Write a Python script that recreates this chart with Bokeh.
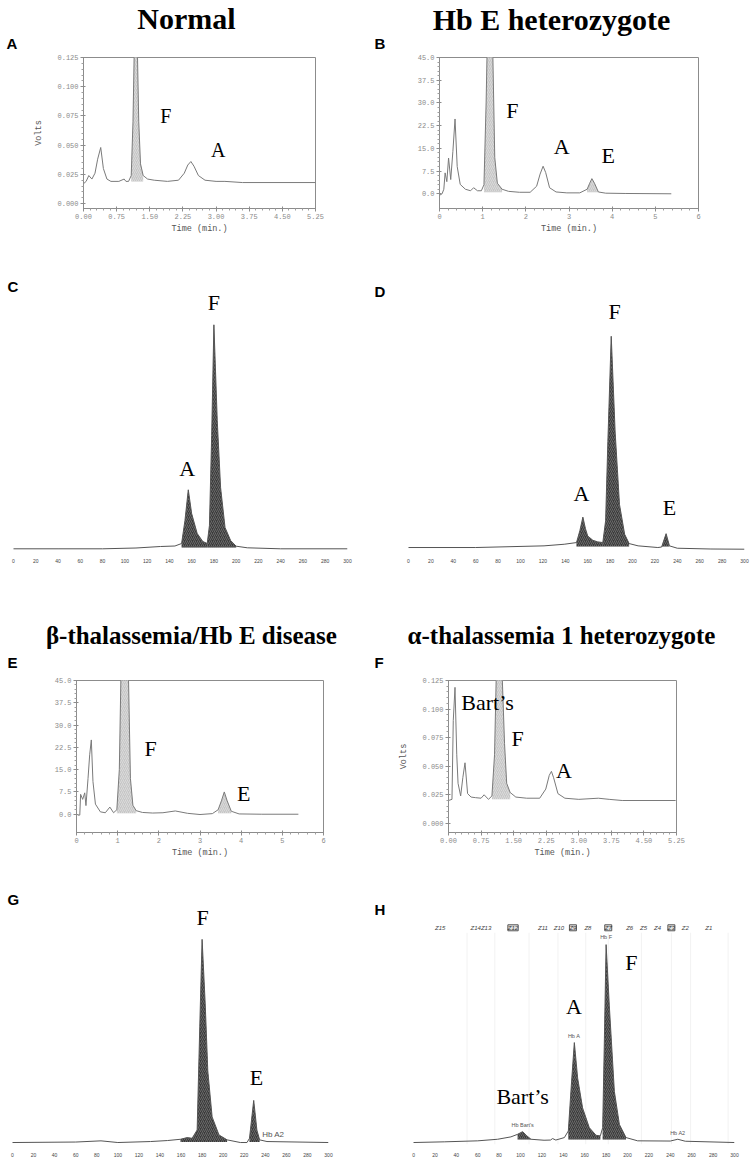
import numpy as np
from bokeh.plotting import figure
from bokeh.layouts import column, row
from bokeh.models import Range1d, Label, FixedTicker, PrintfTickFormatter
from bokeh.embed import file_html
from bokeh.resources import INLINE

# ---------------- data ----------------
# Panel A - Normal, HPLC (time in min, signal in volts)
a_time = [0.00, 0.06, 0.12, 0.19, 0.26, 0.32, 0.39, 0.45, 0.53, 0.62, 0.80, 0.92, 0.96, 1.02, 1.08, 1.12,
          1.15, 1.18, 1.22, 1.25, 1.29, 1.35, 1.45, 1.60, 1.90, 2.15, 2.28, 2.36, 2.43, 2.50, 2.60, 2.75,
          3.00, 3.20, 3.60, 5.25]
a_volts = [0.017, 0.019, 0.024, 0.021, 0.026, 0.038, 0.048, 0.030, 0.021, 0.019, 0.019, 0.021, 0.019, 0.019,
           0.024, 0.070, 0.135, 0.140, 0.130, 0.070, 0.034, 0.024, 0.021, 0.020, 0.019, 0.020, 0.026, 0.033,
           0.036, 0.032, 0.024, 0.020, 0.019, 0.019, 0.018, 0.018]
a_shaded = [(1.06, 1.40)]

# Panel B - Hb E heterozygote, HPLC (%)
b_time = [0.00, 0.06, 0.10, 0.13, 0.17, 0.21, 0.26, 0.31, 0.36, 0.41, 0.48, 0.60, 0.72, 0.79, 0.88, 0.97,
          1.03, 1.08, 1.12, 1.18, 1.23, 1.28, 1.34, 1.45, 1.60, 1.85, 2.10, 2.25, 2.33, 2.40, 2.46, 2.55,
          2.70, 2.95, 3.25, 3.42, 3.48, 3.53, 3.59, 3.68, 3.85, 4.30, 5.37]
b_pct = [-0.5, 0.0, 1.5, 6.9, 4.0, 11.8, 4.7, 14.0, 24.7, 9.0, 3.1, 1.5, 1.0, 2.0, 1.0, 1.0, 3.0, 30.0, 60.0,
         62.0, 50.0, 12.0, 3.5, 1.5, 0.8, 0.5, 0.5, 2.5, 6.5, 9.1, 7.0, 2.0, 0.6, 0.3, 0.3, 1.5, 3.5, 5.0,
         3.5, 0.6, 0.2, 0.1, 0.0]
b_shaded = [(1.00, 1.45), (3.40, 3.70)]

# Panel C - Normal, capillary electrophoresis
c_pos = [0, 40, 80, 110, 132, 145, 151, 154, 157, 160, 165, 170, 174, 176, 178, 180, 183, 186, 190, 195,
         200, 210, 240, 300]
c_signal = [1.7, 1.7, 1.7, 2.5, 4.0, 4.5, 7.0, 30.0, 60.7, 37.0, 17.0, 9.0, 7.0, 25.0, 115.0, 225.7, 130.0,
            63.0, 23.0, 10.0, 4.3, 2.7, 1.7, 1.7]
c_shaded = [(150, 174), (174, 202)]

# Panel D - Hb E heterozygote, capillary electrophoresis
d_pos = [0, 60, 121, 139, 150, 153, 155.7, 158, 160, 164.6, 169, 173.5, 176, 178, 181, 184.5, 188.4, 193,
         197, 205, 222.6, 226, 230, 233, 240, 270, 300]
d_signal = [3.0, 3.0, 4.7, 6.3, 8.0, 20.0, 33.7, 22.0, 14.7, 10.3, 8.7, 8.0, 30.0, 110.0, 216.3, 119.7, 46.3,
            16.3, 7.0, 4.7, 3.0, 3.5, 17.0, 4.7, 2.3, 1.5, 1.3]
d_shaded = [(149, 173.5), (173.5, 200), (225, 236)]

# Panel E - beta-thalassemia/Hb E disease, HPLC (%)
e_time = [0.03, 0.08, 0.10, 0.15, 0.20, 0.23, 0.28, 0.32, 0.36, 0.40, 0.46, 0.58, 0.70, 0.81, 0.90, 0.98,
          1.04, 1.09, 1.14, 1.20, 1.26, 1.31, 1.37, 1.45, 1.60, 1.85, 2.10, 2.40, 2.70, 3.00, 3.30, 3.44,
          3.52, 3.59, 3.66, 3.76, 3.95, 4.50, 5.39]
e_pct = [-0.3, -0.3, 6.7, 5.0, 7.2, 2.9, 12.0, 20.0, 25.0, 11.0, 3.4, 0.8, 0.5, 2.4, 0.5, 1.5, 15.0, 55.0,
         60.0, 60.0, 48.0, 12.0, 3.0, 1.2, 0.6, 0.4, 0.5, 1.1, 0.3, -0.1, 0.2, 1.5, 4.5, 7.5, 4.5, 1.0, 0.1,
         0.0, 0.0]
e_shaded = [(0.95, 1.47), (3.40, 3.80)]

# Panel F - alpha-thalassemia 1 heterozygote, HPLC (volts)
f_time = [0.00, 0.08, 0.11, 0.15, 0.19, 0.22, 0.28, 0.33, 0.38, 0.44, 0.52, 0.62, 0.75, 0.82, 0.92, 1.00,
          1.06, 1.10, 1.14, 1.20, 1.24, 1.29, 1.34, 1.42, 1.55, 1.80, 2.10, 2.24, 2.32, 2.37, 2.42, 2.52,
          2.68, 3.00, 3.45, 3.70, 4.00, 5.23]
f_volts = [0.020, 0.021, 0.090, 0.119, 0.060, 0.035, 0.024, 0.040, 0.053, 0.026, 0.023, 0.0225, 0.022, 0.025,
           0.021, 0.024, 0.060, 0.130, 0.145, 0.140, 0.125, 0.070, 0.035, 0.027, 0.023, 0.022, 0.022, 0.030,
           0.042, 0.0455, 0.040, 0.026, 0.022, 0.021, 0.022, 0.021, 0.020, 0.020]
f_shaded = [(0.97, 1.42)]

# Panel G - beta-thalassemia/Hb E disease, capillary electrophoresis
g_pos = [0, 60, 84, 100, 131, 147, 159.5, 165.8, 170.5, 175.3, 177.8, 180, 183, 185.4, 189.5, 196, 203.7,
         216.3, 222.6, 225, 229, 232, 234.6, 241.6, 300]
g_signal = [2.0, 2.5, 3.7, 2.0, 3.0, 4.0, 5.3, 7.0, 6.3, 14.7, 120.0, 208.0, 141.3, 74.7, 28.0, 9.7, 4.7, 2.0,
            2.0, 6.3, 44.7, 14.7, 4.7, 3.0, 2.0]
g_shaded = [(158, 205), (223.5, 236)]

# Panel H - alpha-thalassemia 1 heterozygote, capillary electrophoresis
h_pos = [0, 28.7, 60, 78.6, 91, 97.3, 102, 106, 109.8, 122, 128, 130, 133, 141, 144.7, 147.5, 150.3, 153.4,
         158, 164.3, 170.6, 174.6, 176.8, 178.4, 180, 183, 187.7, 192.4, 198.6, 209.5, 240, 247, 254, 300]
h_signal = [2.0, 2.7, 3.7, 5.3, 7.7, 10.3, 13.0, 8.7, 5.3, 4.3, 4.5, 6.0, 4.5, 7.0, 13.7, 60.0, 103.0, 67.0,
            37.0, 17.0, 9.3, 8.7, 17.0, 107.0, 202.0, 140.0, 53.7, 20.3, 7.0, 3.7, 3.5, 5.3, 3.3, 2.0]
h_shaded = [(92, 110), (142, 175), (175, 205)]
h_zones = ["Z15", "Z14Z13", "Z12", "Z11", "Z10", "Z9", "Z8", "Z7", "Z6", "Z5", "Z4", "Z3", "Z2", "Z1"]
h_zone_pos = [25, 63, 93, 121, 136, 149, 163, 182, 202, 215, 228, 241, 254, 276]
h_zone_boxed = ["Z12", "Z9", "Z7", "Z3"]
h_zone_edges = [50, 76, 108, 135, 161, 182, 213, 241, 259, 294]

# axis ticks
hplc_volt_ticks = [0.000, 0.025, 0.050, 0.075, 0.100, 0.125]
hplc_volt_time_ticks = [0.00, 0.75, 1.50, 2.25, 3.00, 3.75, 4.50, 5.25]
hplc_pct_ticks = [0.0, 7.5, 15.0, 22.5, 30.0, 37.5, 45.0]
hplc_pct_time_ticks = [0, 1, 2, 3, 4, 5, 6]
ce_ticks = list(range(0, 301, 20))

# headings
row1_titles = ["Normal", "Hb E heterozygote"]
row3_titles = ["β-thalassemia/Hb  E disease", "α-thalassemia 1 heterozygote"]

SERIF = "Liberation Serif"
SANS = "Liberation Sans"
MONO = "Liberation Mono"


def base_fig(w, h, l, r, t, b, xr, yr, yaxis=True):
    kw = dict(width=w, height=h, x_range=Range1d(*xr), y_range=Range1d(*yr),
              output_backend="svg", toolbar_location=None,
              min_border_left=l, min_border_right=r, min_border_top=t, min_border_bottom=b,
              background_fill_color="white", border_fill_color="white")
    if not yaxis:
        kw["y_axis_location"] = None
    p = figure(**kw)
    p.xgrid.visible = False
    p.ygrid.visible = False
    return p


def header_fig(w, h):
    p = figure(width=w, height=h, x_range=Range1d(0, w), y_range=Range1d(h, 0),
               output_backend="svg", toolbar_location=None, x_axis_location=None,
               y_axis_location=None, min_border=0, outline_line_color=None,
               background_fill_color="white", border_fill_color="white")
    p.xgrid.visible = False
    p.ygrid.visible = False
    return p


def minor(ticks, n):
    out = []
    for a, b in zip(ticks[:-1], ticks[1:]):
        out.extend(np.linspace(a, b, n + 1)[1:-1].tolist())
    return out


def style_hplc(p, xticks, xfmt, yticks, yfmt, ylabel=None):
    p.outline_line_color = "#8c8c8c"
    for ax in (p.xaxis[0], p.yaxis[0]):
        ax.axis_line_color = "#8c8c8c"
        ax.major_tick_line_color = "#8c8c8c"
        ax.minor_tick_line_color = "#a0a0a0"
        ax.major_tick_in = 2
        ax.major_tick_out = 3
        ax.minor_tick_in = 0
        ax.minor_tick_out = 2
        ax.major_label_text_font = MONO
        ax.major_label_text_font_size = "7px"
        ax.major_label_text_color = "#8a8a8a"
        ax.major_label_standoff = 2
        ax.axis_label_text_font = MONO
        ax.axis_label_text_font_size = "8.5px"
        ax.axis_label_text_font_style = "normal"
        ax.axis_label_text_color = "#555555"
    p.xaxis.ticker = FixedTicker(ticks=xticks, minor_ticks=minor(xticks, 5))
    p.yaxis.ticker = FixedTicker(ticks=yticks, minor_ticks=minor(yticks, 5))
    p.xaxis.formatter = PrintfTickFormatter(format=xfmt)
    p.yaxis.formatter = PrintfTickFormatter(format=yfmt)
    p.xaxis.axis_label = "Time (min.)"
    p.xaxis.axis_label_standoff = 2
    if ylabel:
        p.yaxis.axis_label = ylabel
        p.yaxis.axis_label_standoff = 10


def style_ce(p):
    p.outline_line_color = None
    ax = p.xaxis[0]
    ax.axis_line_color = None
    ax.major_tick_line_color = None
    ax.minor_tick_line_color = None
    ax.ticker = FixedTicker(ticks=ce_ticks)
    ax.major_label_text_font = SANS
    ax.major_label_text_font_size = "5px"
    ax.major_label_text_color = "#444444"
    ax.major_label_standoff = 2


def trace(p, x, y, windows, base, line_color, fill_color, hatch_color, lw=1.0):
    xa = np.asarray(x, float)
    ya = np.asarray(y, float)
    for lo, hi in windows:
        m = (xa >= lo) & (xa <= hi)
        p.varea(x=xa[m], y1=np.full(int(m.sum()), base), y2=ya[m], fill_color=fill_color,
                hatch_pattern="/", hatch_color=hatch_color, hatch_scale=4, hatch_weight=0.6)
    p.line(xa, ya, line_color=line_color, line_width=lw)


def lab(p, text, x, y, size="22px", font=SERIF, style="normal", align="center",
        color="black", **extra):
    p.add_layout(Label(x=x, y=y, text=text, text_font=font,
                       text_font_size=size, text_font_style=style, text_align=align,
                       text_baseline="middle", text_color=color, **extra))


def letter(p, text, x, y):
    lab(p, text, x, y, size="15px", font=SANS, style="bold", align="left")


# ---------------- Row 1 heading ----------------
hd1 = header_fig(754, 53)
lab(hd1, row1_titles[0], 186, 18, size="30px", style="bold")
lab(hd1, row1_titles[1], 551, 19, size="30px", style="bold")
letter(hd1, "A", 6, 43)
letter(hd1, "B", 374, 43)

# ---------------- Row 1: HPLC ----------------
pA = base_fig(373, 187, 83, 58, 0, 32, (0, 5.25), (-0.0042, 0.125))
style_hplc(pA, hplc_volt_time_ticks, "%.2f", hplc_volt_ticks, "%.3f", "Volts")
trace(pA, a_time, a_volts, a_shaded, 0.019, "#7a7a7a", "#c6c6c6", "#e8e8e8")
lab(pA, "F", 1.86, 0.075, size="20px")
lab(pA, "A", 3.05, 0.046, size="20px")

pB = base_fig(381, 187, 66, 56, 4, 29, (0, 6), (-4.86, 45))
style_hplc(pB, hplc_pct_time_ticks, "%d", hplc_pct_ticks, "%.1f")
trace(pB, b_time, b_pct, b_shaded, 0.5, "#7a7a7a", "#c6c6c6", "#e8e8e8")
lab(pB, "F", 1.69, 27.5)
lab(pB, "A", 2.83, 15.7)
lab(pB, "E", 3.91, 12.6)

# ---------------- Row 2: capillary electrophoresis ----------------
pC = base_fig(373, 330, 0, 26, 0, 20, (-11.68, 300), (0, 310), yaxis=False)
style_ce(pC)
trace(pC, c_pos, c_signal, c_shaded, 3.0, "#555555", "#3a3a3a", "#8a8a8a")
letter(pC, "C", -5.4, 264)
lab(pC, "F", 180, 248)
lab(pC, "A", 156, 82)

pD = base_fig(381, 330, 0, 10, 0, 17, (-31.25, 300), (0, 313), yaxis=False)
style_ce(pD)
trace(pD, d_pos, d_signal, d_shaded, 4.0, "#555555", "#3a3a3a", "#8a8a8a")
letter(pD, "D", -30.4, 262)
lab(pD, "F", 184, 241)
lab(pD, "A", 154.5, 58)
lab(pD, "E", 233, 43)

# ---------------- Row 3 heading ----------------
hd3 = header_fig(754, 101)
lab(hd3, row3_titles[0], 194, 65, size="25px", style="bold")
lab(hd3, row3_titles[1], 561, 65, size="25px", style="bold")
letter(hd3, "E", 7, 92)
letter(hd3, "F", 374, 92)

# ---------------- Row 3: HPLC ----------------
pE = base_fig(373, 189, 76, 50, 9, 22, (0, 6), (-6.15, 45))
style_hplc(pE, hplc_pct_time_ticks, "%d", hplc_pct_ticks, "%.1f")
trace(pE, e_time, e_pct, e_shaded, 0.3, "#7a7a7a", "#c6c6c6", "#e8e8e8")
lab(pE, "F", 1.80, 22)
lab(pE, "E", 4.06, 7.1)

pF = base_fig(381, 189, 75, 78, 0, 22, (0, 5.25), (-0.008, 0.125))
style_hplc(pF, hplc_volt_time_ticks, "%.2f", hplc_volt_ticks, "%.3f", "Volts")
trace(pF, f_time, f_volts, f_shaded, 0.021, "#7a7a7a", "#c6c6c6", "#e8e8e8")
lab(pF, "Bart\u2019s", 0.90, 0.106)
lab(pF, "F", 1.59, 0.074)
lab(pF, "A", 2.66, 0.046)

# ---------------- Row 4: capillary electrophoresis ----------------
pG = base_fig(373, 299, 0, 45, 0, 11, (-11.4, 300), (0, 288), yaxis=False)
style_ce(pG)
trace(pG, g_pos, g_signal, g_shaded, 2.5, "#555555", "#3a3a3a", "#8a8a8a")
letter(pG, "G", -4.7, 248)
lab(pG, "F", 180.4, 230)
lab(pG, "E", 231.7, 68)
lab(pG, "Hb A2", 237, 10, size="8px", font=SANS, align="left", color="#555555")

pH = base_fig(381, 299, 0, 20, 0, 12, (-37.4, 300), (0, 287), yaxis=False)
style_ce(pH)
pH.segment(x0=h_zone_edges, y0=0, x1=h_zone_edges, y1=214, line_color="#f2f2f2", line_width=1)
trace(pH, h_pos, h_signal, h_shaded, 5.0, "#555555", "#3a3a3a", "#8a8a8a")
letter(pH, "H", -36.4, 237)
for name, zx in zip(h_zones, h_zone_pos):
    if name in h_zone_boxed:
        lab(pH, name, zx, 219, size="6px", font=SANS, style="italic", color="#333333",
            border_line_color="#555555", background_fill_color="#e2e2e2")
    else:
        lab(pH, name, zx, 219, size="6px", font=SANS, style="italic", color="#444444")
lab(pH, "Hb F", 180, 210, size="5.5px", font=SANS, color="#555555")
lab(pH, "Hb A", 150, 110, size="5.5px", font=SANS, color="#555555")
lab(pH, "Hb Bart's", 102, 20, size="5.5px", font=SANS, color="#555555")
lab(pH, "Hb A2", 247, 12, size="5.5px", font=SANS, color="#555555")
lab(pH, "F", 203.7, 184)
lab(pH, "A", 150, 139.5)
lab(pH, "Bart\u2019s", 102, 49)

layout = column(hd1, row(pA, pB), row(pC, pD), hd3, row(pE, pF), row(pG, pH))
open("out.html", "w").write(file_html(layout, INLINE))
